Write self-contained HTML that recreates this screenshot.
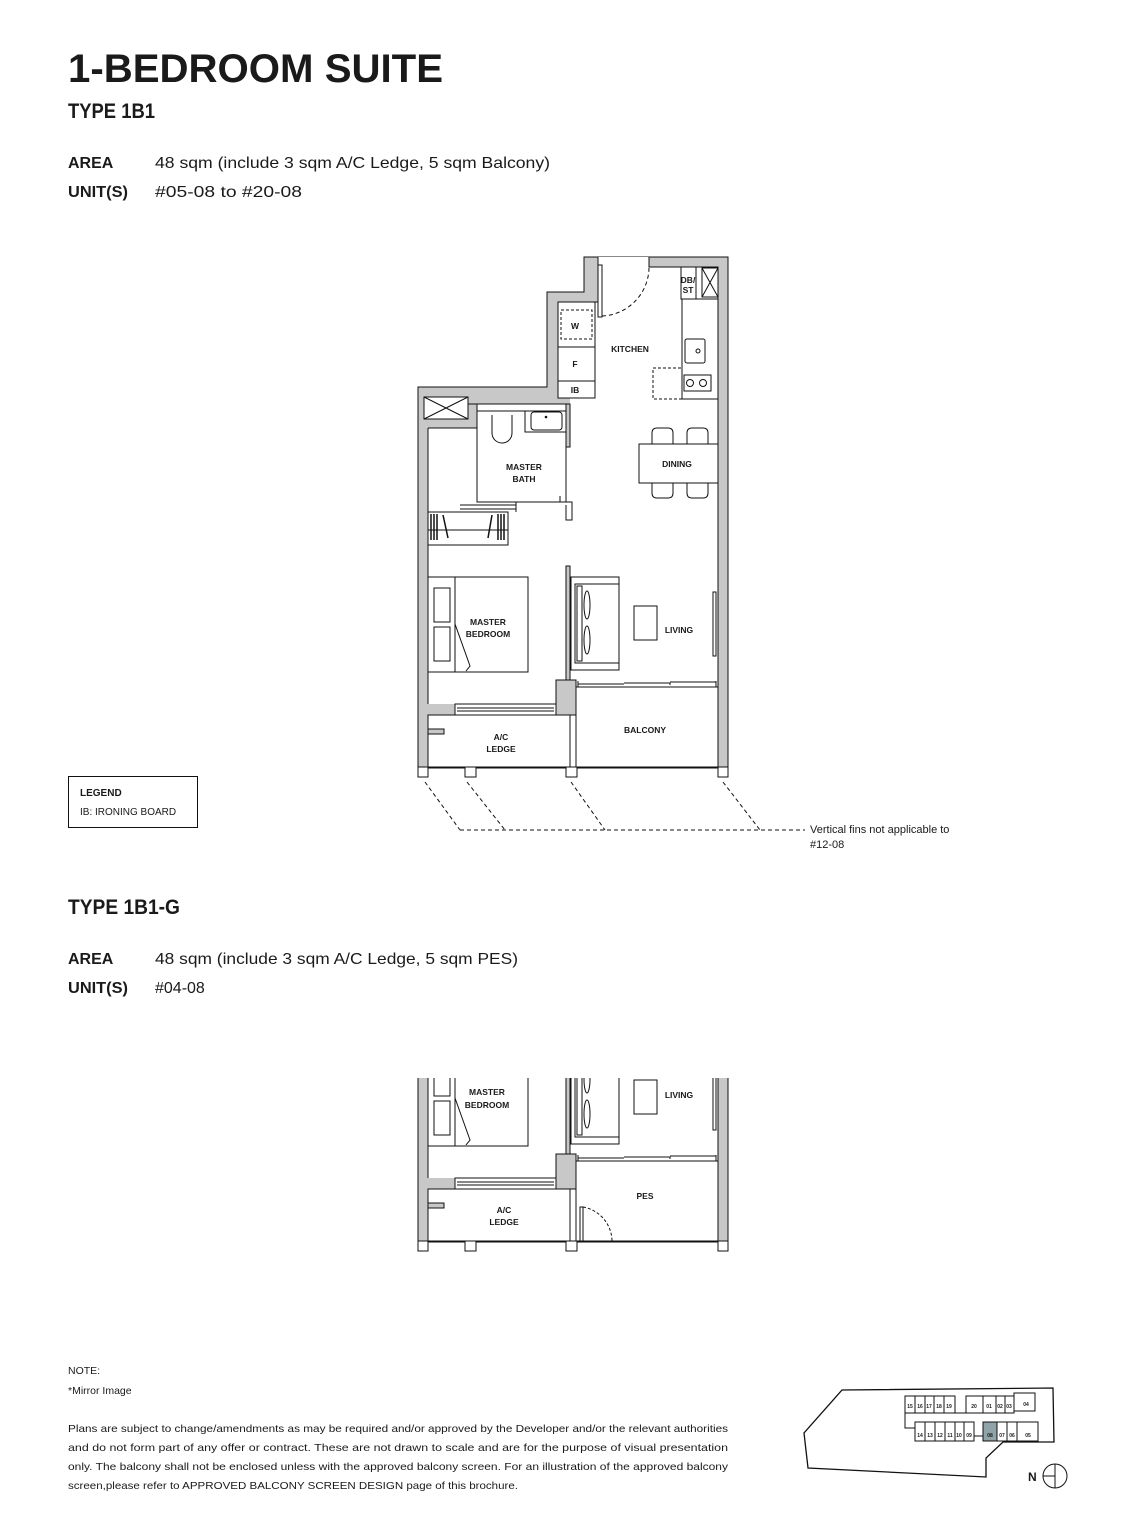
<!DOCTYPE html>
<html><head><meta charset="utf-8"><style>
html,body{margin:0;padding:0;background:#fff}
svg{display:block}
text{font-family:"Liberation Sans",sans-serif;fill:#1a1a1a}
.r{font-size:8.5px;font-weight:bold;text-anchor:middle}
</style></head><body>
<svg width="1131" height="1537" viewBox="0 0 1131 1537" xmlns="http://www.w3.org/2000/svg">
<defs>
<clipPath id="cl"><rect x="400" y="604" width="340" height="190"/></clipPath>
<g id="plan" stroke="#111" stroke-width="1" fill="none">
 <polygon points="584,257 728,257 728,768 418,768 418,387 547,387 547,292 584,292" fill="#c8c8c8"/>
 <polygon points="558,302 598,302 598,257 649,257 649,267 718,267 718,767 576,767 576,715 556,715 556,704 428,704 428,404 570,404 570,398 558,398" fill="#fff" stroke="none"/>
 <rect x="428" y="404" width="49" height="24" fill="#c8c8c8" stroke="none"/>
 <rect x="566" y="404" width="4" height="43" fill="#c8c8c8"/>
 <path d="M598,302 V257 M649,257 V267 H718 V767 M558,302 H598 M428,428 H477 V404 H566 V447 H570 M428,428 V704 M428,404 H570"/>
 <rect x="428" y="715" width="142" height="52" fill="#fff"/>
 <rect x="576" y="687" width="142" height="80" fill="#fff"/>
 <rect x="570" y="715" width="6" height="52" fill="#fff"/>
 <rect x="428" y="729" width="16" height="5" fill="#c8c8c8"/>
 <rect x="455" y="704" width="101" height="11" fill="#fff"/>
 <line x1="457" y1="708" x2="554" y2="708"/><line x1="457" y1="711" x2="554" y2="711"/>
 <rect x="556" y="680" width="20" height="35" fill="#c8c8c8"/>
 <rect x="566" y="566" width="4" height="114" fill="#c8c8c8"/>
 <line x1="418" y1="767" x2="728" y2="767"/>
 <rect x="418" y="767" width="10" height="10" fill="#fff"/><rect x="465" y="767" width="11" height="10" fill="#fff"/>
 <rect x="566" y="767" width="11" height="10" fill="#fff"/><rect x="718" y="767" width="10" height="10" fill="#fff"/>
 <path d="M578,684 H624 M624,683 H670 V685 M670,682 H716 M576,687 H718 M578,681 V687 M716,681 V687"/>
 <rect x="428" y="512" width="80" height="33" fill="#fff"/>
 <line x1="428" y1="530" x2="508" y2="530"/>
 <path d="M431,514 V540 M434,514 V540 M437,514 V540 M498,514 V540 M501,514 V540 M504,514 V540" stroke-width="1.5"/>
 <path d="M443,515 L448,538 M492,515 L488,538" stroke-width="1.5"/>
 <rect x="477" y="404" width="89" height="98" fill="#fff"/>
 <rect x="424" y="397" width="44" height="22" fill="#fff"/>
 <path d="M424,397 L468,419 M468,397 L424,419"/>
 <path d="M477,411 H566 M525,411 V432 H566"/>
 <rect x="531" y="412" width="31" height="18" rx="3"/>
 <circle cx="546" cy="417" r="0.8" fill="#111"/>
 <path d="M492,415 V433 A10,10 0 0 0 512,433 V415"/>
 <path d="M460,505 H516 M460,509 H516 M516,502 V512 M560,496 V502 H572 V520 H566 V505"/>
 <rect x="558" y="302" width="37" height="96" fill="#fff"/>
 <path d="M558,347 H595 M558,381 H595"/>
 <rect x="561" y="310" width="31" height="29" stroke-dasharray="3,2"/>
 <rect x="598" y="265" width="4" height="52" fill="#fff"/>
 <path d="M602,316 A49,49 0 0 0 649,267" stroke-dasharray="4,3"/>
 <rect x="681" y="267" width="15" height="32" fill="#fff"/>
 <rect x="702" y="268" width="16" height="29" fill="#fff"/>
 <path d="M702,268 L718,297 M718,268 L702,297"/>
 <rect x="682" y="299" width="36" height="100" fill="#fff"/>
 <rect x="685" y="339" width="20" height="24" rx="2"/>
 <circle cx="698" cy="351" r="2"/>
 <rect x="684" y="375" width="27" height="16"/>
 <circle cx="690" cy="383" r="3.5"/><circle cx="703" cy="383" r="3.5"/>
 <rect x="653" y="368" width="29" height="31" stroke-dasharray="3,2"/>
 <path d="M652,445 V433 Q652,428 657,428 H668 Q673,428 673,433 V445 M687,445 V433 Q687,428 692,428 H703 Q708,428 708,433 V445"/>
 <path d="M652,483 V493 Q652,498 657,498 H668 Q673,498 673,493 V483 M687,483 V493 Q687,498 692,498 H703 Q708,498 708,493 V483"/>
 <rect x="639" y="444" width="79" height="39" fill="#fff"/>
 <rect x="428" y="577" width="100" height="95" fill="#fff"/>
 <line x1="455" y1="577" x2="455" y2="672"/>
 <rect x="434" y="588" width="16" height="34"/><rect x="434" y="627" width="16" height="34"/>
 <path d="M455,624 L470,666 L466,671"/>
 <rect x="571" y="577" width="48" height="93" fill="#fff"/>
 <rect x="575" y="584" width="44" height="79"/>
 <rect x="577" y="586" width="5" height="75"/>
 <ellipse cx="587" cy="605" rx="3" ry="14"/><ellipse cx="587" cy="640" rx="3" ry="14"/>
 <rect x="634" y="606" width="23" height="34"/>
 <rect x="713" y="592" width="3" height="64" fill="#fff"/>
</g>
</defs>

<text x="68" y="82" font-size="40" font-weight="bold" textLength="375" lengthAdjust="spacingAndGlyphs">1-BEDROOM SUITE</text>
<text x="68" y="118" font-size="21" font-weight="bold" textLength="87" lengthAdjust="spacingAndGlyphs">TYPE 1B1</text>
<text x="68" y="168" font-size="16" font-weight="bold">AREA</text>
<text x="155" y="168" font-size="16" textLength="395" lengthAdjust="spacingAndGlyphs">48 sqm (include 3 sqm A/C Ledge, 5 sqm Balcony)</text>
<text x="68" y="197" font-size="16" font-weight="bold" textLength="60" lengthAdjust="spacingAndGlyphs">UNIT(S)</text>
<text x="155" y="197" font-size="16" textLength="147" lengthAdjust="spacingAndGlyphs">#05-08 to #20-08</text>

<use href="#plan"/>
<g>
<text class="r" x="575" y="329">W</text><text class="r" x="575" y="367">F</text><text class="r" x="575" y="393">IB</text>
<text class="r" x="688" y="283" font-size="7">DB/</text><text class="r" x="688" y="293" font-size="7">ST</text>
<text class="r" x="630" y="352">KITCHEN</text><text class="r" x="677" y="467">DINING</text>
<text class="r" x="524" y="470">MASTER</text><text class="r" x="524" y="482">BATH</text>
<text class="r" x="488" y="625">MASTER</text><text class="r" x="488" y="637">BEDROOM</text>
<text class="r" x="679" y="633">LIVING</text><text class="r" x="645" y="733">BALCONY</text>
<text class="r" x="501" y="740">A/C</text><text class="r" x="501" y="752">LEDGE</text>
</g>
<g stroke="#111" stroke-dasharray="4,3" fill="none">
<path d="M425,782 L460,830 M467,782 L505,830 M571,782 L605,830 M723,782 L760,830 M460,830 H805"/>
</g>
<text x="810" y="833" font-size="11">Vertical fins not applicable to</text>
<text x="810" y="848" font-size="11">#12-08</text>

<rect x="68.5" y="776.5" width="129" height="51" fill="none" stroke="#111"/>
<text x="80" y="796" font-size="10" font-weight="bold">LEGEND</text>
<text x="80" y="815" font-size="10">IB: IRONING BOARD</text>

<text x="68" y="914" font-size="21" font-weight="bold" textLength="112" lengthAdjust="spacingAndGlyphs">TYPE 1B1-G</text>
<text x="68" y="964" font-size="16" font-weight="bold">AREA</text>
<text x="155" y="964" font-size="16" textLength="363" lengthAdjust="spacingAndGlyphs">48 sqm (include 3 sqm A/C Ledge, 5 sqm PES)</text>
<text x="68" y="993" font-size="16" font-weight="bold" textLength="60" lengthAdjust="spacingAndGlyphs">UNIT(S)</text>
<text x="155" y="993" font-size="16">#04-08</text>

<g transform="translate(0,474)">
 <g clip-path="url(#cl)"><use href="#plan"/></g>
 <rect x="577" y="688" width="140" height="78" fill="#fff"/>
 <g stroke="#111" fill="none">
  <rect x="580" y="733" width="3" height="34" fill="#fff"/>
  <path d="M583,733 A35,35 0 0 1 612,767" stroke-dasharray="3,2"/>
 </g>
 <text class="r" x="487" y="621">MASTER</text><text class="r" x="487" y="634">BEDROOM</text>
 <text class="r" x="679" y="624">LIVING</text><text class="r" x="645" y="725">PES</text>
 <text class="r" x="504" y="739">A/C</text><text class="r" x="504" y="751">LEDGE</text>
</g>

<text x="68" y="1374" font-size="10.5">NOTE:</text>
<text x="68" y="1394" font-size="10.5">*Mirror Image</text>
<g font-size="10.5">
<text x="68" y="1432" textLength="660" lengthAdjust="spacingAndGlyphs">Plans are subject to change/amendments as may be required and/or approved by the Developer and/or the relevant authorities</text>
<text x="68" y="1451" textLength="660" lengthAdjust="spacingAndGlyphs">and do not form part of any offer or contract. These are not drawn to scale and are for the purpose of visual presentation</text>
<text x="68" y="1470" textLength="660" lengthAdjust="spacingAndGlyphs">only. The balcony shall not be enclosed unless with the approved balcony screen. For an illustration of the approved balcony</text>
<text x="68" y="1489" textLength="450" lengthAdjust="spacingAndGlyphs">screen,please refer to APPROVED BALCONY SCREEN DESIGN page of this brochure.</text>
</g>

<g stroke="#111" fill="#fff" stroke-width="1">
<polygon points="842,1390 1053,1388 1054,1442 1003,1442 986,1458 986,1477 808,1468 804,1433" fill="none" stroke-width="1.3"/>
<rect x="905" y="1396" width="10" height="17"/><rect x="915" y="1396" width="10" height="17"/><rect x="925" y="1396" width="9" height="17"/><rect x="934" y="1396" width="10" height="17"/><rect x="944" y="1396" width="11" height="17"/>
<rect x="966" y="1396" width="17" height="17"/><rect x="983" y="1396" width="13" height="17"/><rect x="996" y="1396" width="9" height="17"/><rect x="1005" y="1396" width="9" height="17"/><rect x="1014" y="1393" width="21" height="18"/>
<rect x="915" y="1422" width="10" height="19"/><rect x="925" y="1422" width="10" height="19"/><rect x="935" y="1422" width="10" height="19"/><rect x="945" y="1422" width="10" height="19"/><rect x="955" y="1422" width="9" height="19"/><rect x="964" y="1422" width="10" height="19"/>
<rect x="983" y="1422" width="14" height="19" fill="#8fa3a8"/><rect x="997" y="1422" width="10" height="19"/><rect x="1007" y="1422" width="10" height="19"/><rect x="1017" y="1422" width="21" height="19"/>
<path d="M955,1413 H966 M974,1436 H983 M905,1413 V1428 H915" fill="none"/>
</g>
<g font-size="5" font-weight="bold" text-anchor="middle">
<text x="910" y="1408">15</text><text x="920" y="1408">16</text><text x="929" y="1408">17</text><text x="939" y="1408">18</text><text x="949" y="1408">19</text>
<text x="974" y="1408">20</text><text x="989" y="1408">01</text><text x="1000" y="1408">02</text><text x="1009" y="1408">03</text><text x="1026" y="1406">04</text>
<text x="920" y="1437">14</text><text x="930" y="1437">13</text><text x="940" y="1437">12</text><text x="950" y="1437">11</text><text x="959" y="1437">10</text><text x="969" y="1437">09</text>
<text x="990" y="1437">08</text><text x="1002" y="1437">07</text><text x="1012" y="1437">06</text><text x="1028" y="1437">05</text>
</g>
<text x="1028" y="1481" font-size="12" font-weight="bold">N</text>
<circle cx="1055" cy="1476" r="12" fill="none" stroke="#111"/>
<path d="M1043,1476 H1055 M1055,1464 V1488" stroke="#111" fill="none"/>
</svg>
</body></html>
